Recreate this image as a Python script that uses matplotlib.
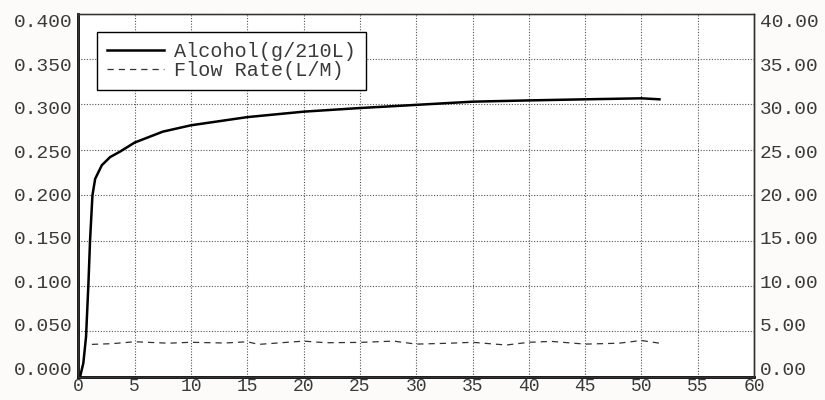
import matplotlib
matplotlib.use("Agg")
import matplotlib.pyplot as plt
import matplotlib.ticker as mticker
import matplotlib.transforms as mtransforms

# alcohol curve (left axis, g/210L) vs time
alcohol_t = [0.0, 0.15, 0.44, 0.68, 0.89, 1.04, 1.25, 1.49, 2.08, 2.82, 3.7, 5.0,
             7.5, 10.0, 15.0, 20.0, 25.0, 28.6, 35.0, 40.0, 45.0, 50.0, 51.6]
alcohol = [0.0, 0.0, 0.015, 0.044, 0.102, 0.151, 0.200, 0.218, 0.233, 0.242, 0.248, 0.258,
           0.270, 0.277, 0.286, 0.292, 0.296, 0.2985, 0.303, 0.3044, 0.3056, 0.3067, 0.3056]

# flow rate (right axis, L/M)
flow_t = [1.2, 3.0, 5.0, 8.0, 10.0, 13.0, 15.0, 16.0, 20.0, 22.0, 25.0, 28.0, 30.0,
          33.0, 35.0, 38.0, 40.0, 42.0, 45.0, 48.0, 50.0, 51.6]
flow = [3.57, 3.65, 3.86, 3.70, 3.80, 3.72, 3.86, 3.57, 3.93, 3.75, 3.79, 3.93, 3.60,
        3.70, 3.80, 3.50, 3.80, 3.90, 3.60, 3.70, 4.00, 3.70]

left_ticks = [0.0, 0.05, 0.10, 0.15, 0.20, 0.25, 0.30, 0.35, 0.40]
right_ticks = [0, 5, 10, 15, 20, 25, 30, 35, 40]
x_ticks = list(range(0, 61, 5))

FONT = "Liberation Mono"
FS = 14
TEXT_COLOR = "#3a3a3a"
plt.rcParams["font.family"] = [FONT, "DejaVu Sans Mono"]

fig = plt.figure(figsize=(8.25, 4.0), dpi=100)
fig.patch.set_facecolor("#fdfbfa")
ax = fig.add_axes([0.095, 0.058, 0.819, 0.908])
ax.set_facecolor("white")

ax.plot(alcohol_t, alcohol, color="black", linewidth=1.8, zorder=3)
ax.set_xlim(0, 60)
ax.set_ylim(0, 0.4)
ax.set_xticks(x_ticks)
ax.set_yticks(left_ticks)
ax.yaxis.set_major_formatter(mticker.FormatStrFormatter("%.3f"))
ax.grid(True, color="#555555", linestyle=(0, (1, 1.5)), linewidth=0.8)
ax.set_axisbelow(True)

ax2 = ax.twinx()
ax2.plot(flow_t, flow, color="#333333", linewidth=0.9, linestyle=(0, (5, 4)),
         zorder=3)
ax2.set_ylim(0, 40)
ax2.set_yticks(right_ticks)
ax2.yaxis.set_major_formatter(mticker.FormatStrFormatter("%.2f"))

for a in (ax, ax2):
    a.tick_params(length=0, labelsize=FS, colors=TEXT_COLOR, pad=4)
    for s in a.spines.values():
        s.set_color("#333333")
        s.set_linewidth(1.0)
ax.spines["left"].set_linewidth(2.0)
ax.spines["left"].set_color("black")
ax.spines["bottom"].set_linewidth(2.0)
ax.spines["bottom"].set_color("black")
ax.spines["top"].set_color("#888888")
ax.tick_params(axis="x", pad=1, labelsize=13)

# the original's y labels sit slightly inside the axis range at both ends
fig.canvas.draw()
for a, vmax in ((ax, 0.4), (ax2, 40.0)):
    for tick in a.yaxis.get_major_ticks():
        shift = (6 - 11 * tick.get_loc() / vmax) / 72
        off = mtransforms.ScaledTranslation(0, shift, fig.dpi_scale_trans)
        for lab in (tick.label1, tick.label2):
            lab.set_transform(lab.get_transform() + off)

handles = [
    plt.Line2D([], [], color="black", linewidth=1.8),
    plt.Line2D([], [], color="#333333", linewidth=0.9, linestyle=(0, (5, 4))),
]
leg = ax.legend(handles, ["Alcohol(g/210L)", "Flow Rate(L/M)"],
                loc="upper left", bbox_to_anchor=(0.028, 0.95),
                fontsize=FS + 0.5, frameon=True, fancybox=False, framealpha=1,
                edgecolor="black", handlelength=2.8, handletextpad=0.5,
                borderpad=0.5, labelspacing=0.0, borderaxespad=0)
leg.get_frame().set_linewidth(1.0)
for t in leg.get_texts():
    t.set_color(TEXT_COLOR)
leg.set_zorder(10)

fig.savefig("out.png", dpi=100, facecolor=fig.get_facecolor())
